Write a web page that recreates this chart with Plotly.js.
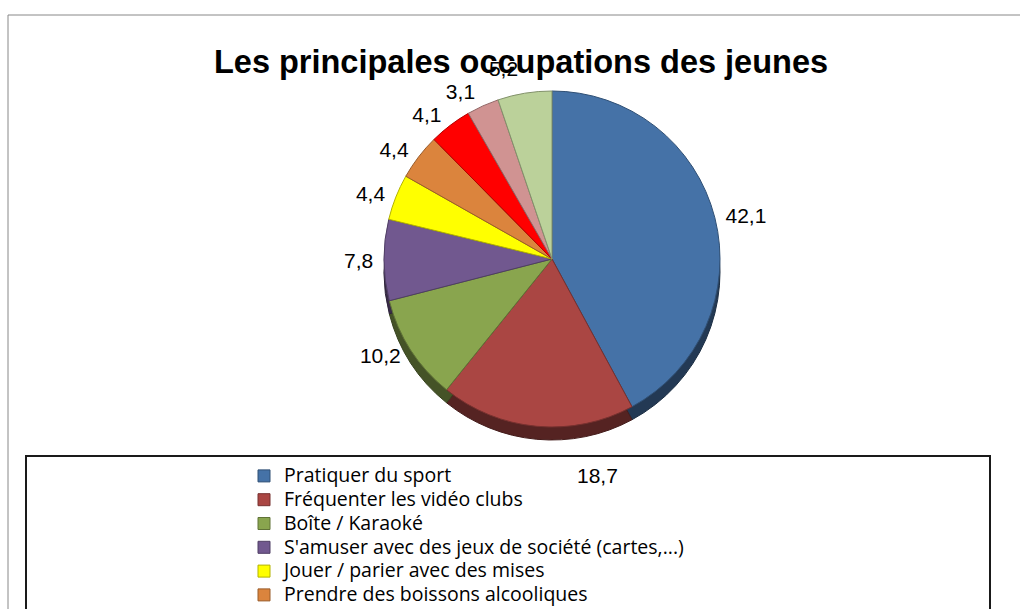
<!DOCTYPE html>
<html>
<head>
<meta charset="utf-8">
<script src="https://cdn.plot.ly/plotly-3.0.1.min.js"></script>
<style>
html,body{margin:0;padding:0;background:#fff;}
#chart{width:1020px;height:609px;}
.legend .scrollbar{display:none;}
.legend .scrollbox{clip-path:none !important;}
.legend .legendtext{font-size:19.5px !important;}
.pielayer path.textline{display:none;}
</style>
</head>
<body>
<div id="chart"></div>
<script>
const categories = [
  "Pratiquer du sport",
  "Fréquenter les vidéo clubs",
  "Boîte / Karaoké",
  "S'amuser avec des jeux de société (cartes,...)",
  "Jouer / parier avec des mises",
  "Prendre des boissons alcooliques",
  "Fumer des cigarettes",
  "Consommer de la drogue",
  "Autres"
];
const values = [42.1, 18.7, 10.2, 7.8, 4.4, 4.4, 4.1, 3.1, 5.2];
const colors = ["#4572A7", "#AA4643", "#89A54E", "#71588F", "#FFFF00", "#DB843D", "#FF0000", "#D09392", "#BBD19A"];
const titleText = "Les principales occupations des jeunes";

function shade(hex, f) {
  const n = parseInt(hex.slice(1), 16);
  const r = Math.round(((n >> 16) & 255) * f), g = Math.round(((n >> 8) & 255) * f), b = Math.round((n & 255) * f);
  return "rgb(" + r + "," + g + "," + b + ")";
}
const fmt = v => v.toFixed(1).replace(".", ",");
const W = 1020, H = 609;
const cx = 552, cy = 259, R = 168, depth = 13, RT = 173;
const dom = (dy, r) => ({
  x: [(cx - r) / W, (cx + r) / W],
  y: [(H - cy - dy - r) / H, (H - cy - dy + r) / H]
});
// label of the second slice is placed by Excel in the legend zone
const sliceText = values.map((v, i) => i === 1 ? "" : fmt(v));

const common = {type: "pie", values: values, sort: false, direction: "clockwise", rotation: 0};

const shadow = Object.assign({}, common, {
  labels: categories.map(c => c + " "),
  domain: dom(depth, R),
  marker: {colors: colors.map(c => shade(c, 0.5)), line: {color: colors.map(c => shade(c, 0.4)), width: 1}},
  textinfo: "none",
  hoverinfo: "skip",
  showlegend: false
});
const pie = Object.assign({}, common, {
  labels: categories,
  domain: dom(0, R),
  textinfo: "none",
  marker: {colors: colors, line: {color: colors.map(c => shade(c, 0.7)), width: 1}},
  hoverinfo: "label+value"
});
// transparent ring only used to place the data labels a bit further out
const labelsRing = Object.assign({}, common, {
  labels: categories.map(c => c + "  "),
  domain: dom(0, RT),
  text: sliceText,
  textinfo: "text",
  textposition: "outside",
  textfont: {family: "Liberation Sans, Arial, sans-serif", size: 21, color: "#000"},
  marker: {colors: values.map(() => "rgba(0,0,0,0)"), line: {width: 0}},
  hoverinfo: "skip",
  showlegend: false
});

const layout = {
  width: W, height: H,
  margin: {l: 0, r: 0, t: 0, b: 0, autoexpand: false},
  paper_bgcolor: "#fff",
  font: {family: "Liberation Sans, Arial, sans-serif", color: "#000"},
  title: {
    text: "<b>" + titleText + "</b>",
    font: {family: "Liberation Sans, Arial, sans-serif", size: 32.5, color: "#000"},
    x: 521 / W, xanchor: "center", xref: "paper",
    y: 1 - 62 / H, yanchor: "middle", yref: "container"
  },
  showlegend: true,
  legend: {
    x: 244 / W, xanchor: "left",
    y: 1 - 459 / H, yanchor: "top",
    bgcolor: "rgba(0,0,0,0)",
    borderwidth: 0,
    font: {family: "Open Sans, sans-serif", size: 16, color: "#000"},
    tracegroupgap: 0,
    traceorder: "normal"
  },
  shapes: [
    {type: "rect", xref: "paper", yref: "paper", x0: 8 / W, x1: 1.05, y0: -0.05, y1: 1 - 15 / H,
     line: {color: "#888", width: 1}, fillcolor: "rgba(0,0,0,0)", layer: "below"},
    {type: "rect", xref: "paper", yref: "paper", x0: 26 / W, x1: 990 / W, y0: -0.05, y1: 1 - 456 / H,
     line: {color: "#1a1a1a", width: 2}, fillcolor: "rgba(0,0,0,0)", layer: "below"}
  ],
  annotations: [
    {xref: "paper", yref: "paper", x: 597 / W, y: 1 - 475 / H, xanchor: "center", yanchor: "middle",
     text: fmt(values[1]), showarrow: false,
     font: {family: "Liberation Sans, Arial, sans-serif", size: 21, color: "#000"}}
  ]
};

Plotly.newPlot("chart", [shadow, pie, labelsRing], layout, {displayModeBar: false, staticPlot: true});
</script>
</body>
</html>
